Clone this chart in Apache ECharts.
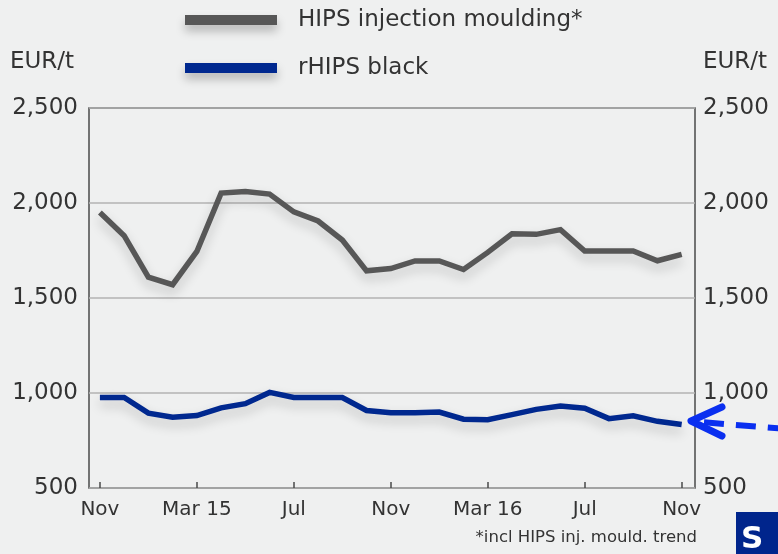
<!DOCTYPE html>
<html>
<head>
<meta charset="utf-8">
<script src="https://cdn.jsdelivr.net/npm/echarts@6/dist/echarts.min.js"></script>
<style>
  html, body { margin: 0; padding: 0; background: #eff0f0; }
  #chart { width: 778px; height: 554px; }
</style>
</head>
<body>
<div id="chart"></div>
<script>
// Monthly, Nov 2014 .. Nov 2016
const months = ['Nov','Dec','Jan','Feb','Mar 15','Apr','May','Jun','Jul','Aug','Sep','Oct',
                'Nov','Dec','Jan','Feb','Mar 16','Apr','May','Jun','Jul','Aug','Sep','Oct','Nov'];
const tickMonthIdx = [0, 4, 8, 12, 16, 20, 24];
const hipsInjection = [1950,1828,1610,1570,1745,2052,2060,2047,1953,1905,1805,1643,
                       1655,1695,1695,1650,1740,1838,1835,1860,1747,1747,1747,1696,1730];
const rhipsBlack = [976,976,894,872,881,922,944,1003,976,976,976,908,
                    896,896,900,862,859,886,914,932,920,865,880,851,834];
const yTicks = [500, 1000, 1500, 2000, 2500];
const seriesNames = ['HIPS injection moulding*', 'rHIPS black'];

const FONT = 'DejaVu Sans';
const TXT = '#333333';
const chart = echarts.init(document.getElementById('chart'), null, { renderer: 'canvas' });

const fmtNum = v => v.toLocaleString('en-US');

chart.setOption({
  backgroundColor: '#eff0f0',
  animation: false,
  textStyle: { fontFamily: FONT },
  grid: {
    left: 89, right: 83, top: 108, bottom: 66,
    show: true, borderColor: '#4a4a4a', borderWidth: 1.5, backgroundColor: 'transparent'
  },
  legend: {
    orient: 'vertical', left: 185, top: 8, padding: 0,
    itemWidth: 92, itemHeight: 10, itemGap: 24,
    icon: 'rect',
    itemStyle: { shadowBlur: 10, shadowColor: 'rgba(0,0,0,0.25)', shadowOffsetY: 6 },
    textStyle: { fontFamily: FONT, fontSize: 23, color: TXT, lineHeight: 24, padding: [0, 0, 0, 16] },
    data: seriesNames
  },
  xAxis: {
    type: 'value', min: -0.45, max: 24.55,
    axisLine: { show: false },
    splitLine: { show: false },
    axisTick: { show: true, inside: true, length: 6, customValues: tickMonthIdx,
                lineStyle: { color: '#4a4a4a', width: 1.5 } },
    axisLabel: { customValues: tickMonthIdx, formatter: v => months[v],
                 fontFamily: FONT, fontSize: 20, color: TXT, margin: 12 }
  },
  yAxis: [
    {
      type: 'value', min: 500, max: 2500, interval: 500,
      name: 'EUR/t', nameLocation: 'end', nameGap: 34,
      nameTextStyle: { fontFamily: FONT, fontSize: 23, color: TXT, align: 'left', padding: [0, 0, 0, -90] },
      axisLine: { show: false }, axisTick: { show: false },
      splitLine: { show: true, lineStyle: { color: '#b3b3b3', width: 1.5 } },
      axisLabel: { formatter: fmtNum, fontFamily: FONT, fontSize: 23, color: TXT, margin: 11 }
    },
    {
      type: 'value', min: 500, max: 2500, interval: 500, position: 'right',
      name: 'EUR/t', nameLocation: 'end', nameGap: 34,
      nameTextStyle: { fontFamily: FONT, fontSize: 23, color: TXT, align: 'left', padding: [0, 0, 0, 8] },
      axisLine: { show: false }, axisTick: { show: false }, splitLine: { show: false },
      axisLabel: { formatter: fmtNum, fontFamily: FONT, fontSize: 23, color: TXT, margin: 8 }
    }
  ],
  series: [
    {
      name: seriesNames[0], type: 'line', yAxisIndex: 0,
      data: hipsInjection.map((v, i) => [i, v]),
      showSymbol: false, symbol: 'none',
      color: '#575757',
      lineStyle: { color: '#575757', width: 5.5, join: 'miter',
                   shadowBlur: 12, shadowColor: 'rgba(0,0,0,0.2)', shadowOffsetY: 6 }
    },
    {
      name: seriesNames[1], type: 'line', yAxisIndex: 0,
      data: rhipsBlack.map((v, i) => [i, v]),
      showSymbol: false, symbol: 'none',
      color: '#00288f',
      lineStyle: { color: '#00288f', width: 5.5, join: 'miter',
                   shadowBlur: 12, shadowColor: 'rgba(0,0,0,0.2)', shadowOffsetY: 6 }
    }
  ],
  graphic: [
    { type: 'text', right: 81, top: 529,
      style: { text: '*incl HIPS inj. mould. trend', fontFamily: FONT, fontSize: 16.5, fill: TXT } },
    { type: 'rect', shape: { x: 736, y: 512, width: 42, height: 42 }, style: { fill: '#00258c' } },
    { type: 'text', x: 741, y: 524, style: { text: 'S', fontFamily: FONT, fontSize: 31, fontWeight: 'bold', fill: '#ffffff' } },
    { type: 'line', shape: { x1: 700, y1: 422, x2: 780, y2: 428.5 },
      style: { stroke: '#0a2ff0', lineWidth: 6, lineDash: [20, 12], lineDashOffset: -4 } },
    { type: 'polyline', shape: { points: [[722, 407], [691, 421], [722, 436]] },
      style: { stroke: '#0a2ff0', lineWidth: 7, fill: null, lineCap: 'round', lineJoin: 'round' } }
  ]
});
</script>
</body>
</html>
